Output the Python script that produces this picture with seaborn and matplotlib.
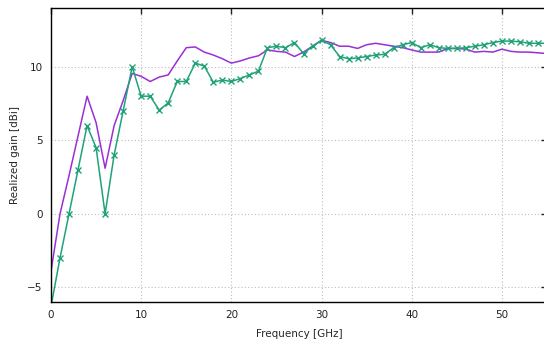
"""Realized gain vs frequency, two antenna variants (gnuplot-like look)."""
import matplotlib
import numpy as np
import pandas as pd
import seaborn as sns

matplotlib.use("Agg")
import matplotlib.pyplot as plt

# frequency grid in GHz, 1 GHz steps
freq_ghz = list(range(0, 56))

gain_sim = [
    -3.9, 0.0, 2.6, 5.3, 8.0, 6.2, 3.1, 6.0, 7.7, 9.55,
    9.35, 9.0, 9.3, 9.45, 10.4, 11.3, 11.35, 11.0, 10.8, 10.55,
    10.25, 10.4, 10.6, 10.75, 11.15, 11.05, 11.0, 10.7, 11.0, 11.4,
    11.8, 11.65, 11.4, 11.4, 11.25, 11.5, 11.6, 11.5, 11.4, 11.3,
    11.15, 11.0, 11.0, 11.0, 11.25, 11.25, 11.2, 11.0, 11.05, 11.0,
    11.2, 11.05, 11.0, 11.0, 10.95, 10.9,
]

gain_meas = [
    -6.3, -3.0, 0.0, 3.0, 6.0, 4.5, 0.0, 4.0, 7.0, 10.0,
    8.0, 8.0, 7.05, 7.55, 9.0, 9.0, 10.25, 10.05, 8.95, 9.1,
    9.0, 9.2, 9.45, 9.7, 11.3, 11.4, 11.3, 11.65, 10.9, 11.4,
    11.8, 11.5, 10.7, 10.55, 10.6, 10.7, 10.8, 10.85, 11.3, 11.5,
    11.65, 11.3, 11.5, 11.3, 11.25, 11.25, 11.3, 11.4, 11.5, 11.65,
    11.75, 11.75, 11.7, 11.6, 11.6, 11.6,
]

PURPLE = "#9a2fd6"
GREEN = "#1fa27a"

df = pd.DataFrame({"freq": freq_ghz, "sim": gain_sim, "meas": gain_meas})

sns.set_style("white")
plt.rcParams["font.family"] = ["DejaVu Sans"]

fig = plt.figure(figsize=(5.44, 3.47), dpi=100)
ax = fig.add_axes([51 / 544, 45 / 347, 496 / 544, 294 / 347])

sns.lineplot(data=df, x="freq", y="sim", color=PURPLE, lw=1.1, ax=ax)
sns.lineplot(
    data=df, x="freq", y="meas", color=GREEN, lw=1.1, marker="x",
    markersize=5, markeredgewidth=1.0, markeredgecolor=GREEN, ax=ax,
)

ax.set_xlim(0, 55)
ax.set_ylim(-6, 14)
ax.set_xticks(np.arange(0, 51, 10))
ax.set_yticks([-5, 0, 5, 10])
ax.grid(True, color="#bdbdbd", ls=(0, (1, 2)), lw=0.8)
ax.tick_params(direction="in", length=4, width=1, top=True, right=True,
               labelsize=7.5, pad=6, colors="#222222")
for s in ax.spines.values():
    s.set_color("black")
    s.set_linewidth(1.0)

ax.set_xlabel("Frequency [GHz]", fontsize=7.5, labelpad=6)
ax.set_ylabel("Realized gain [dBi]", fontsize=7.5, labelpad=5)

fig.savefig("out.png", dpi=100)
